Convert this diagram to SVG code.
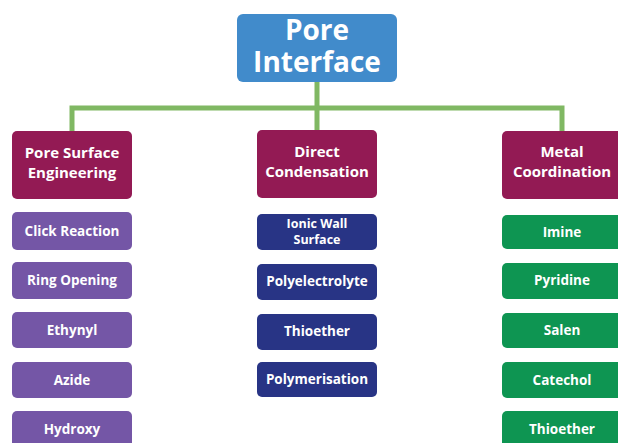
<svg xmlns="http://www.w3.org/2000/svg" width="618" height="443" viewBox="0 0 618 443">
<style>
text{font-family:"Open Sans","Noto Sans","Liberation Sans",sans-serif;font-weight:700;fill:#fff;text-anchor:middle}
.title{font-size:28px}
.cat{font-size:15px}
.sub{font-size:13.5px}
.root{fill:#418BCB}
.c{fill:#931A54}
.p{fill:#7456A6}
.n{fill:#283485}
.g{fill:#0E9552}
.conn{fill:none;stroke:#80B863;stroke-width:5}
</style>
<rect width="618" height="443" fill="#fff"/>
<g id="connectors">
<path class="conn" d="M317,82V108M72,131V108H562V131M317,108V130"/>
</g>
<g id="root"><rect class="root" x="237" y="14" width="160" height="68" rx="6"/>
<text class="title" x="317" y="40">Pore</text><text class="title" x="317" y="72">Interface</text></g>
<g id="cat1"><rect class="c" x="12" y="131" width="120" height="68" rx="5"/>
<text class="cat" x="72" y="158">Pore Surface</text><text class="cat" x="72" y="178">Engineering</text></g>
<g id="cat2"><rect class="c" x="257" y="130" width="120" height="68" rx="5"/>
<text class="cat" x="317" y="157">Direct</text><text class="cat" x="317" y="177">Condensation</text></g>
<g id="cat3"><rect class="c" x="502" y="131" width="124" height="68" rx="5"/>
<text class="cat" x="562" y="157">Metal</text><text class="cat" x="562" y="177">Coordination</text></g>
<g id="s1"><rect class="p" x="12" y="212" width="120" height="38" rx="5"/><text class="sub" x="72" y="236">Click Reaction</text></g>
<g id="s2"><rect class="p" x="12" y="262" width="120" height="37" rx="5"/><text class="sub" x="72" y="285">Ring Opening</text></g>
<g id="s3"><rect class="p" x="12" y="312" width="120" height="36" rx="5"/><text class="sub" x="72" y="335">Ethynyl</text></g>
<g id="s4"><rect class="p" x="12" y="362" width="120" height="36" rx="5"/><text class="sub" x="72" y="385">Azide</text></g>
<g id="s5"><rect class="p" x="12" y="411" width="120" height="40" rx="5"/><text class="sub" x="72" y="434">Hydroxy</text></g>
<g id="d1"><rect class="n" x="257" y="214" width="120" height="36" rx="5"/><text class="sub" x="317" y="228" style="font-size:12.5px">Ionic Wall</text><text class="sub" x="317" y="244" style="font-size:12.5px">Surface</text></g>
<g id="d2"><rect class="n" x="257" y="264" width="120" height="36" rx="5"/><text class="sub" x="317" y="286">Polyelectrolyte</text></g>
<g id="d3"><rect class="n" x="257" y="314" width="120" height="36" rx="5"/><text class="sub" x="317" y="336">Thioether</text></g>
<g id="d4"><rect class="n" x="257" y="362" width="120" height="35" rx="5"/><text class="sub" x="317" y="384">Polymerisation</text></g>
<g id="m1"><rect class="g" x="502" y="215" width="124" height="34" rx="5"/><text class="sub" x="562" y="237">Imine</text></g>
<g id="m2"><rect class="g" x="502" y="263" width="124" height="36" rx="5"/><text class="sub" x="562" y="285">Pyridine</text></g>
<g id="m3"><rect class="g" x="502" y="313" width="124" height="35" rx="5"/><text class="sub" x="562" y="335">Salen</text></g>
<g id="m4"><rect class="g" x="502" y="362" width="124" height="36" rx="5"/><text class="sub" x="562" y="385">Catechol</text></g>
<g id="m5"><rect class="g" x="502" y="411" width="124" height="40" rx="5"/><text class="sub" x="562" y="434">Thioether</text></g>
</svg>
